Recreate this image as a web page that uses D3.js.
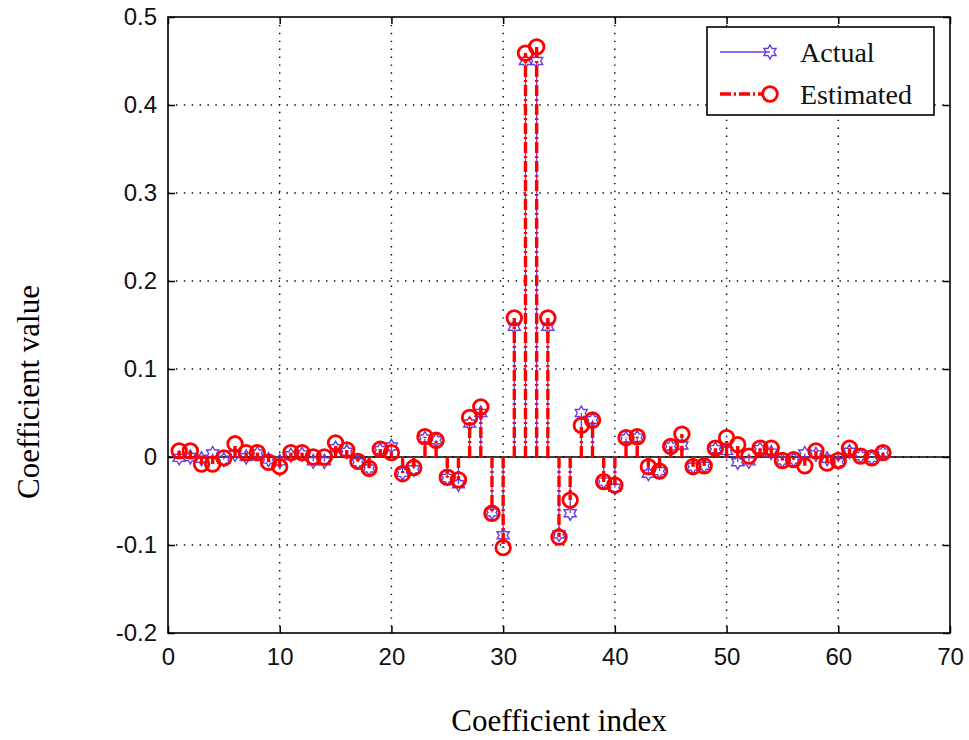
<!DOCTYPE html>
<html>
<head>
<meta charset="utf-8">
<script src="https://cdn.jsdelivr.net/npm/d3@7/dist/d3.min.js"></script>
<style>
  html, body { margin: 0; padding: 0; background: #fff; }
  svg { display: block; }
</style>
</head>
<body>
<svg id="chart" width="969" height="740"></svg>
<script>
// Coefficient indices
const coeffIndex = [
   1,  2,  3,  4,  5,  6,  7,  8,  9, 10, 11, 12, 13, 14, 15, 16,
  17, 18, 19, 20, 21, 22, 23, 24, 25, 26, 27, 28, 29, 30, 31, 32,
  33, 34, 35, 36, 37, 38, 39, 40, 41, 42, 43, 44, 45, 46, 47, 48,
  49, 50, 51, 52, 53, 54, 55, 56, 57, 58, 59, 60, 61, 62, 63, 64
];

// True filter coefficients
const actualValues = [
  -0.001, 0.000, -0.002, 0.004, -0.003, 0.003, 0.000, 0.004,
  -0.003, -0.005, 0.002, 0.003, -0.005, -0.005, 0.010, 0.006,
  -0.006, -0.013, 0.008, 0.012, -0.018, -0.014, 0.021, 0.019,
  -0.024, -0.031, 0.038, 0.050, -0.063, -0.089, 0.148, 0.450,
  0.450, 0.148, -0.088, -0.064, 0.050, 0.042, -0.028, -0.035,
  0.021, 0.022, -0.019, -0.016, 0.012, 0.013, -0.011, -0.010,
  0.009, 0.007, -0.006, -0.005, 0.009, 0.005, -0.004, -0.003,
  0.004, 0.003, -0.002, -0.006, 0.006, 0.001, -0.001, 0.005
];

// Estimated filter coefficients
const estimatedValues = [
  0.007, 0.007, -0.008, -0.008, -0.001, 0.015, 0.005, 0.005,
  -0.006, -0.011, 0.005, 0.005, 0.000, 0.000, 0.016, 0.008,
  -0.005, -0.013, 0.009, 0.005, -0.019, -0.012, 0.023, 0.019,
  -0.023, -0.026, 0.045, 0.057, -0.064, -0.103, 0.158, 0.459,
  0.466, 0.158, -0.091, -0.049, 0.036, 0.042, -0.028, -0.032,
  0.022, 0.023, -0.011, -0.016, 0.012, 0.026, -0.011, -0.010,
  0.010, 0.022, 0.014, 0.001, 0.010, 0.010, -0.004, -0.003,
  -0.010, 0.007, -0.007, -0.004, 0.010, 0.001, -0.001, 0.005
];

const xTicks = [0, 10, 20, 30, 40, 50, 60, 70];
const yTicks = [-0.2, -0.1, 0, 0.1, 0.2, 0.3, 0.4, 0.5];
const yTickLabels = ["-0.2", "-0.1", "0", "0.1", "0.2", "0.3", "0.4", "0.5"];
const seriesNames = ["Actual", "Estimated"];

const svg = d3.select("#chart");
const plot = { left: 168, right: 950, top: 17, bottom: 633 };

const x = d3.scaleLinear().domain([0, 70]).range([plot.left, plot.right]);
const y = d3.scaleLinear().domain([-0.2, 0.5]).range([plot.bottom, plot.top]);

const purple = "#6a3de0";
const red = "#ff0000";

// six-pointed star marker (size = outer radius)
const hexagram = {
  draw(ctx, r) {
    const inner = r / Math.sqrt(3);
    for (let k = 0; k < 12; k++) {
      const a = -Math.PI / 2 + k * Math.PI / 6;
      const rr = k % 2 === 0 ? r : inner;
      const px = rr * Math.cos(a), py = rr * Math.sin(a);
      if (k === 0) ctx.moveTo(px, py); else ctx.lineTo(px, py);
    }
    ctx.closePath();
  }
};

// dotted grid
const grid = svg.append("g");
grid.selectAll("line.gx").data(xTicks.slice(1, -1)).join("line")
  .attr("x1", d => x(d)).attr("x2", d => x(d))
  .attr("y1", plot.top).attr("y2", plot.bottom)
  .attr("stroke", "#000").attr("stroke-width", 1.4)
  .attr("stroke-dasharray", "1.4,6.5");
grid.selectAll("line.gy").data(yTicks.slice(1, -1)).join("line")
  .attr("y1", d => y(d)).attr("y2", d => y(d))
  .attr("x1", plot.left).attr("x2", plot.right)
  .attr("stroke", "#000").attr("stroke-width", 1.4)
  .attr("stroke-dasharray", "1.4,6.5");

// axes with inward ticks
const fmtY = d => yTickLabels[yTicks.indexOf(d)];
const xAxis = svg.append("g")
  .attr("transform", `translate(0,${plot.bottom})`)
  .call(d3.axisBottom(x).tickValues(xTicks).tickSizeInner(-7).tickSizeOuter(0).tickPadding(18));
const yAxis = svg.append("g")
  .attr("transform", `translate(${plot.left},0)`)
  .call(d3.axisLeft(y).tickValues(yTicks).tickFormat(fmtY).tickSizeInner(-7).tickSizeOuter(0).tickPadding(10));
// ticks on top and right edges
svg.append("g").attr("transform", `translate(0,${plot.top})`)
  .call(d3.axisTop(x).tickValues(xTicks).tickSizeInner(-7).tickSizeOuter(0).tickFormat(""));
svg.append("g").attr("transform", `translate(${plot.right},0)`)
  .call(d3.axisRight(y).tickValues(yTicks).tickSizeInner(-7).tickSizeOuter(0).tickFormat(""));

svg.selectAll(".domain").remove();
svg.selectAll(".tick line").attr("stroke", "#000").attr("stroke-width", 1.5);
svg.selectAll(".tick text")
  .attr("font-family", "'Liberation Sans', Arial, sans-serif")
  .attr("font-size", 24).attr("fill", "#111");
xAxis.selectAll(".tick text").attr("dy", "0.6em");
yAxis.selectAll(".tick text").attr("dx", "-1");

// frame
svg.append("rect")
  .attr("x", plot.left).attr("y", plot.top)
  .attr("width", plot.right - plot.left).attr("height", plot.bottom - plot.top)
  .attr("fill", "none").attr("stroke", "#000").attr("stroke-width", 1.6);

// stem baseline
svg.append("line")
  .attr("x1", plot.left).attr("x2", plot.right)
  .attr("y1", y(0)).attr("y2", y(0))
  .attr("stroke", "#000").attr("stroke-width", 1.6);

const actualData = coeffIndex.map((i, k) => ({ i, v: actualValues[k] }));
const estData = coeffIndex.map((i, k) => ({ i, v: estimatedValues[k] }));

// actual stems and markers
const gA = svg.append("g");
gA.selectAll("line").data(actualData).join("line")
  .attr("x1", d => x(d.i)).attr("x2", d => x(d.i))
  .attr("y1", y(0)).attr("y2", d => y(d.v))
  .attr("stroke", purple).attr("stroke-width", 1.3);
gA.selectAll("path").data(actualData).join("path")
  .attr("transform", d => `translate(${x(d.i)},${y(d.v)})`)
  .attr("d", d3.symbol().type(hexagram).size(7))
  .attr("fill", "none").attr("stroke", purple).attr("stroke-width", 1.4);

// estimated stems and markers
const gE = svg.append("g");
gE.selectAll("line").data(estData).join("line")
  .attr("x1", d => x(d.i)).attr("x2", d => x(d.i))
  .attr("y1", y(0)).attr("y2", d => y(d.v))
  .attr("stroke", red).attr("stroke-width", 3.4)
  .attr("stroke-dasharray", "11,3,2,3");
gE.selectAll("circle").data(estData).join("circle")
  .attr("cx", d => x(d.i)).attr("cy", d => y(d.v)).attr("r", 7.3)
  .attr("fill", "none").attr("stroke", red).attr("stroke-width", 2.8);

// legend
const lg = svg.append("g");
lg.append("rect")
  .attr("x", 707).attr("y", 27).attr("width", 227).attr("height", 88)
  .attr("fill", "#fff").attr("stroke", "#000").attr("stroke-width", 1.6);
const rows = [
  { name: seriesNames[0], cy: 52 },
  { name: seriesNames[1], cy: 94 }
];
lg.append("line").attr("x1", 720).attr("x2", 770).attr("y1", rows[0].cy).attr("y2", rows[0].cy)
  .attr("stroke", purple).attr("stroke-width", 1.3);
lg.append("path").attr("transform", `translate(770,${rows[0].cy})`)
  .attr("d", d3.symbol().type(hexagram).size(7))
  .attr("fill", "none").attr("stroke", purple).attr("stroke-width", 1.4);
lg.append("line").attr("x1", 720).attr("x2", 770).attr("y1", rows[1].cy).attr("y2", rows[1].cy)
  .attr("stroke", red).attr("stroke-width", 3.4).attr("stroke-dasharray", "11,3,2,3");
lg.append("circle").attr("cx", 770).attr("cy", rows[1].cy).attr("r", 7.3)
  .attr("fill", "#fff").attr("stroke", red).attr("stroke-width", 2.8);
lg.selectAll("text").data(rows).join("text")
  .attr("x", 800).attr("y", d => d.cy + 10)
  .attr("font-family", "'Liberation Serif', 'Times New Roman', serif")
  .attr("font-size", 28).attr("fill", "#111")
  .text(d => d.name);

// axis titles
svg.append("text")
  .attr("x", (plot.left + plot.right) / 2).attr("y", 731)
  .attr("text-anchor", "middle")
  .attr("font-family", "'Liberation Serif', 'Times New Roman', serif")
  .attr("font-size", 31).attr("fill", "#000")
  .text("Coefficient index");
svg.append("text")
  .attr("transform", `translate(39,${(plot.top + plot.bottom) / 2 + 67}) rotate(-90)`)
  .attr("text-anchor", "middle")
  .attr("font-family", "'Liberation Serif', 'Times New Roman', serif")
  .attr("font-size", 31).attr("fill", "#000")
  .text("Coefficient value");
</script>
</body>
</html>
